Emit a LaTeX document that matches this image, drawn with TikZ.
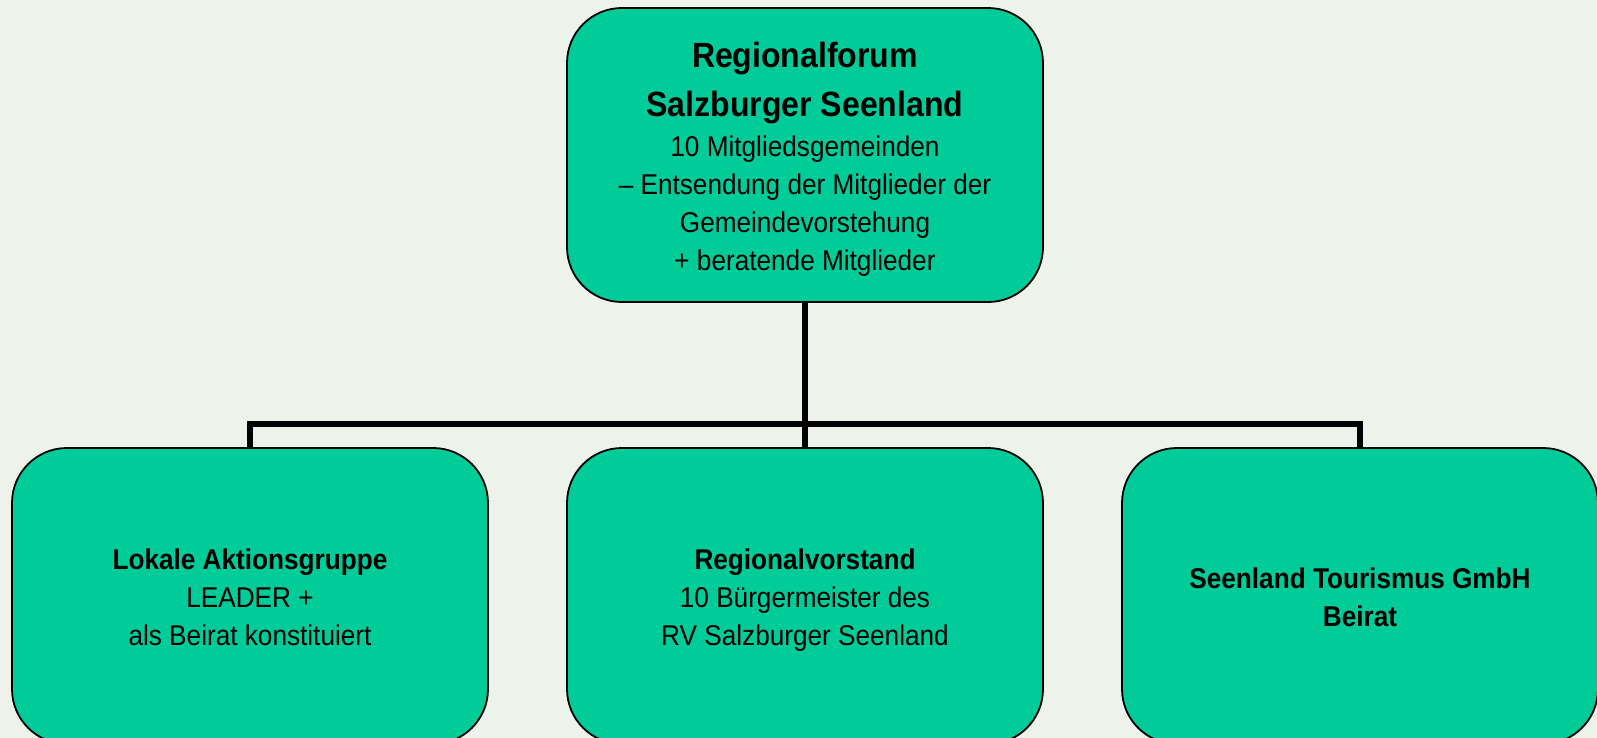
\documentclass[tikz,border=0pt]{standalone}
\usepackage{fontspec}
\setmainfont{Liberation Sans}[FakeStretch=0.915]
\definecolor{bg}{RGB}{237,242,235}
\definecolor{boxgreen}{RGB}{0,204,153}
\newcommand{\ttlfont}{\fontsize{35}{38}\selectfont\bfseries}
\newcommand{\sr}{\rule[-11.4pt]{0pt}{38pt}}
\newcommand{\srtop}{\rule[-11.4pt]{0pt}{45pt}}
\begin{document}
\begin{tikzpicture}[x=1pt,y=-1pt,
  orgbox/.style={draw=black, line width=1.8pt, fill=boxgreen, rounded corners=55pt,
    minimum width=476pt, inner sep=0pt, align=center,
    font=\fontsize{28.6}{38}\selectfont},
  conn/.style={draw=black, line width=5.5pt, line join=miter}]
\useasboundingbox (0,0) rectangle (1597,738);
\fill[bg] (0,0) rectangle (1597,738);
\clip (0,0) rectangle (1597,738);
\node[orgbox, minimum height=294pt] (top) at (805,155)
  {\rule{0pt}{39.4pt}{\ttlfont Regionalforum}\\[11pt]
   {\ttlfont Salzburger Seenland}\\[2pt]
   \sr 10 Mitgliedsgemeinden\\
   \sr – Entsendung der Mitglieder der\\
   \sr Gemeindevorstehung\\
   \sr + beratende Mitglieder};
\node[orgbox, minimum height=296pt] (lag) at (250,596)
  {\srtop\textbf{Lokale Aktionsgruppe}\\\sr LEADER +\\\sr als Beirat konstituiert};
\node[orgbox, minimum height=296pt] (rv) at (805,596)
  {\srtop\textbf{Regionalvorstand}\\\sr 10 Bürgermeister des\\\sr RV Salzburger Seenland};
\node[orgbox, minimum height=296pt] (stg) at (1360,596)
  {\rule[-11.4pt]{0pt}{46pt}\textbf{Seenland Tourismus GmbH}\\\sr\textbf{Beirat}};
\coordinate (bus) at (805,424);
\draw[conn] (top.south) -- (rv.north);
\draw[conn] (lag.north) |- (bus) -| (stg.north);
\end{tikzpicture}
\end{document}
